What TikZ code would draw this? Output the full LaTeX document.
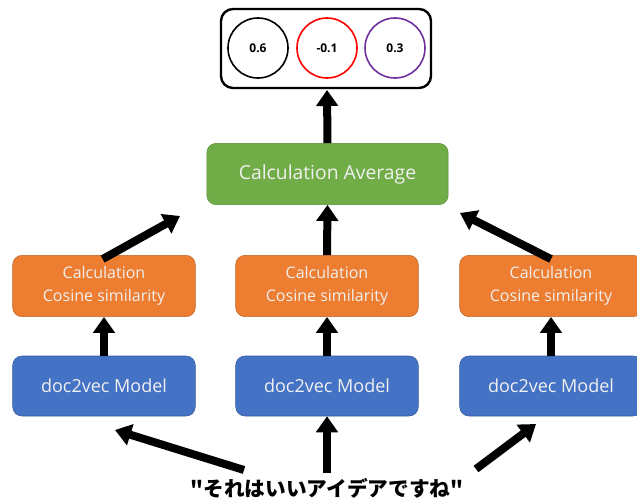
\documentclass[tikz,border=0pt]{standalone}
\usepackage{fontspec}
\setmainfont{Open Sans}
\newfontfamily\jpfont{Noto Sans CJK JP}
\usetikzlibrary{arrows.meta}
\definecolor{avggreen}{HTML}{70AD47}
\definecolor{cosorange}{HTML}{ED7D31}
\definecolor{modelblue}{HTML}{4472C4}
\definecolor{scorepurple}{HTML}{7030A0}
\tikzset{
  box/.style={rounded corners=7pt, text=white!94!black, align=center, inner sep=0pt},
  avgbox/.style={box, fill=avggreen, draw=avggreen!80!black, minimum width=181pt, minimum height=46pt, font=\fontsize{14.5}{16}\selectfont},
  cosbox/.style={box, fill=cosorange, draw=cosorange!80!black, minimum width=137pt, minimum height=46pt, font=\fontsize{12}{17}\selectfont},
  modelbox/.style={box, fill=modelblue, draw=modelblue!80!black, minimum width=137pt, minimum height=45pt, font=\fontsize{13.5}{15}\selectfont},
  score/.style={circle, line width=1.2pt, minimum size=45pt, inner sep=0pt, font=\bfseries\fontsize{9}{10}\selectfont},
  fat/.style={line width=6pt, -{Triangle[length=12pt,width=16pt]}},
}
\begin{document}
\begin{tikzpicture}[x=0.75pt,y=-0.75pt]
	\useasboundingbox (0,0) rectangle (637,501);
	% result box with the three scores
	\draw [line width=1.8pt, rounded corners=9pt] (221,9) rectangle (431,88);
	\node [score, draw=black] (s1) at (258,48) {0.6};
	\node [score, draw=red] (s2) at (327,48) {-0.1};
	\node [score, draw=scorepurple] (s3) at (395,48) {0.3};
	\coordinate (R) at (327,90);
	% average
	\node [avgbox] (avg) at (327.5,174) {Calculation Average};
	% cosine similarity
	\node [cosbox] (cosL) at (104,286) {Calculation\\Cosine similarity};
	\node [cosbox] (cosM) at (327,286) {Calculation\\Cosine similarity};
	\node [cosbox] (cosR) at (551,286) {Calculation\\Cosine similarity};
	% models
	\node [modelbox] (modL) at (104,386) {doc2vec Model};
	\node [modelbox] (modM) at (327,386) {doc2vec Model};
	\node [modelbox] (modR) at (551,386) {doc2vec Model};
	% input sentence
	\node [font=\jpfont\bfseries\fontsize{15.5}{17}\selectfont] (inp) at (327,488) {"それはいいアイデアですね"};
	\coordinate (aL) at (180,216);
	\coordinate (aR) at (460,213);
	\coordinate (bL0) at (244,470);
	\coordinate (bL1) at (115,430);
	\coordinate (bR0) at (476,469);
	\coordinate (bR1) at (536,424);
	\draw [fat] (avg.north) -- (R);
	\draw [fat] ([xshift=-1pt,yshift=-3pt]cosL.north) -- (aL);
	\draw [fat] (cosM.north) -- (avg.south);
	\draw [fat] ([yshift=-3pt]cosR.north) -- (aR);
	\draw [fat] (modL.north) -- (cosL.south);
	\draw [fat] (modM.north) -- (cosM.south);
	\draw [fat] (modR.north) -- (cosR.south);
	\draw [fat] (bL0) -- (bL1);
	\draw [fat] (inp.north) -- (modM.south);
	\draw [fat] (bR0) -- (bR1);
\end{tikzpicture}
\end{document}
